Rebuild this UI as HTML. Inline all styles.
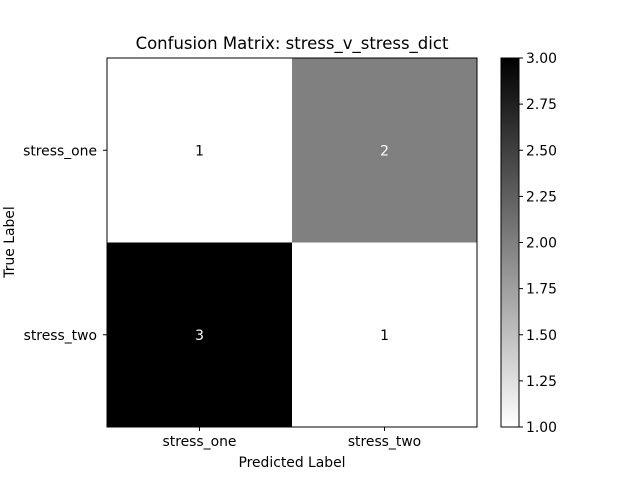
<!DOCTYPE html>
<html><head><meta charset="utf-8"><style>
body{margin:0;background:#fff;}
svg{display:block;font-family:"DejaVu Sans","Liberation Sans",sans-serif;}
</style></head><body>
<svg id="chart" width="640" height="480" viewBox="0 0 640 480">
<rect width="640" height="480" fill="#fff"/>
<text x="292" y="49" text-anchor="middle" font-size="16.5">Confusion Matrix: stress_v_stress_dict</text>
<g id="cells"></g>
<g id="axes"></g>
<g id="cbar"></g>
<text x="292" y="467" text-anchor="middle" font-size="13.9">Predicted Label</text>
<text transform="translate(14,242) rotate(-90)" text-anchor="middle" font-size="13.9">True Label</text>
</svg>
<script>
const predLabels = ["stress_one","stress_two"];
const trueLabels = ["stress_one","stress_two"];
const matrix = [[1,2],[3,1]];
const cbarTicks = [1.00,1.25,1.50,1.75,2.00,2.25,2.50,2.75,3.00];

const NS="http://www.w3.org/2000/svg";
function mk(tag,attrs,parent,text){const e=document.createElementNS(NS,tag);for(const k in attrs)e.setAttribute(k,attrs[k]);if(text!==undefined)e.textContent=text;parent.appendChild(e);return e;}
const L=107,R=477,T=58,B=427;
const vals=matrix.flat();const vmin=Math.min(...vals),vmax=Math.max(...vals);
const nC=predLabels.length,nR=trueLabels.length;
const cw=(R-L)/nC,ch=(B-T)/nR;
function shade(v){const t=(v-vmin)/(vmax-vmin||1);const g=Math.round(255*(1-t));return `rgb(${g},${g},${g})`;}
const cells=document.getElementById('cells');
matrix.forEach((row,i)=>row.forEach((v,j)=>{
  const r=mk('rect',{x:L+j*cw,y:T+i*ch,width:cw+0.5,height:ch+0.5,fill:shade(v)},cells);
  
  
  const t=(v-vmin)/(vmax-vmin||1);
  const tx=mk('text',{x:L+(j+0.5)*cw,y:T+(i+0.5)*ch+5,'text-anchor':'middle','font-size':'13.9',fill:t>0.4?'#fff':'#000'},cells,String(v));
  
  
}));
const ax=document.getElementById('axes');
mk('rect',{x:L,y:T,width:R-L,height:B-T,fill:'none',stroke:'#000','stroke-width':1},ax);
predLabels.forEach((lab,j)=>{const x=L+(j+0.5)*cw;mk('line',{x1:x,x2:x,y1:B,y2:B+4,stroke:'#000'},ax);
  const t=mk('text',{x:x,y:B+19,'text-anchor':'middle','font-size':'13.9'},ax,lab);
  
  });
trueLabels.forEach((lab,i)=>{const y=T+(i+0.5)*ch;mk('line',{x1:L-4,x2:L,y1:y,y2:y,stroke:'#000'},ax);
  const t=mk('text',{x:L-10,y:y+5,'text-anchor':'end','font-size':'13.9'},ax,lab);
  
  });
const cb=document.getElementById('cbar');
const CL=501,CR=519;
const defs=mk('defs',{},cb);
const lg=mk('linearGradient',{id:'g',x1:0,y1:1,x2:0,y2:0},defs);
mk('stop',{offset:0,'stop-color':shade(vmin)},lg);mk('stop',{offset:1,'stop-color':shade(vmax)},lg);
const cr=mk('rect',{x:CL,y:T,width:CR-CL,height:B-T,fill:'url(#g)',stroke:'#000','stroke-width':1},cb);


cbarTicks.forEach(v=>{const y=B-(v-vmin)/(vmax-vmin)*(B-T);
  mk('line',{x1:CR,x2:CR+4,y1:y,y2:y,stroke:'#000'},cb);
  const t=mk('text',{x:CR+7,y:y+5,'font-size':'13.9'},cb,v.toFixed(2));
  
  });
</script>
</body></html>
